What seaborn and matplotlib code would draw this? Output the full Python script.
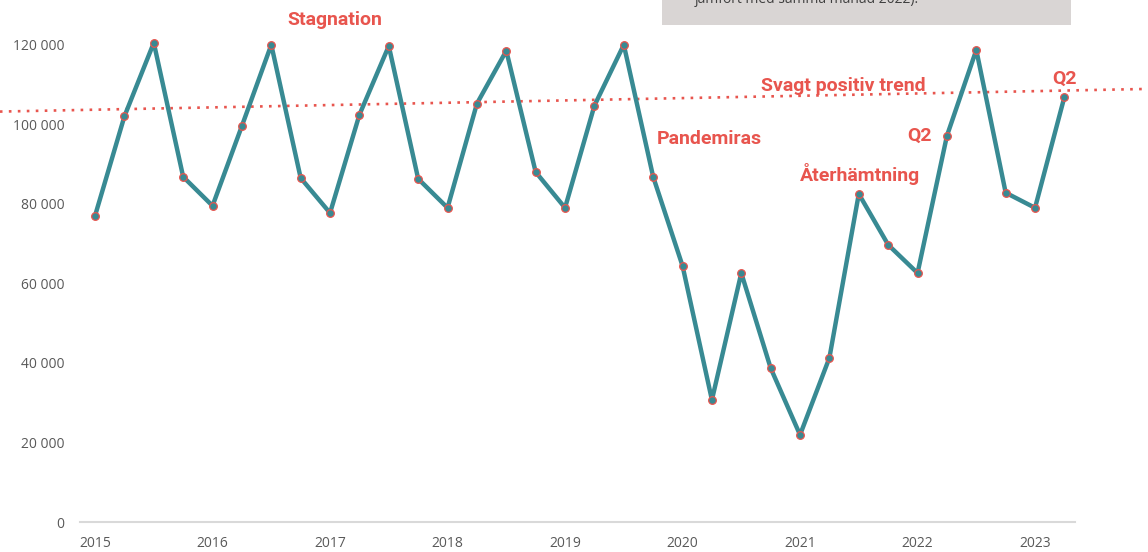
import numpy as np
import pandas as pd
import seaborn as sns
from matplotlib import pyplot as plt
from matplotlib.patches import Rectangle

# quarterly values, 2015 Q1 - 2023 Q2
start_year = 2015
values = [77000, 102000, 120500, 86800,
          79500, 99600, 120000, 86500,
          77700, 102400, 119700, 86300,
          79000, 105200, 118500, 88000,
          79000, 104700, 120000, 86800,
          64400, 30700, 62600, 38700,
          21900, 41300, 82500, 69700,
          62600, 97100, 118700, 82800,
          79000, 106900]
year_ticks = [2015, 2016, 2017, 2018, 2019, 2020, 2021, 2022, 2023]
y_ticks = [0, 20000, 40000, 60000, 80000, 100000, 120000]

# trend line end points (runs past the plot area)
trend_x = [2014.19, 2023.96]
trend_y = [103200, 108900]

# annotations
labels = ['Stagnation', 'Svagt positiv trend', 'Q2', 'Q2', 'Pandemiras', 'Återhämtning']
label_x = [2017.04, 2021.37, 2023.25, 2022.02, 2020.23, 2021.51]
label_y = [126200, 109600, 111400, 97100, 96300, 87500]

df = pd.DataFrame({'t': start_year + np.arange(len(values)) / 4, 'value': values})

teal = '#388a93'
red = '#e8554e'
grey_txt = '#595959'

sns.set_theme(style='white')
plt.rcParams['font.family'] = ['Open Sans', 'DejaVu Sans']

fig = plt.figure(figsize=(11.48, 5.52), dpi=100)
ax = fig.add_axes([80 / 1148, 30 / 552, 995 / 1148, 517 / 552])

ax.plot(trend_x, trend_y, linestyle=(0, (1, 2.4)), color=red, lw=1.9,
        clip_on=False, zorder=1)

sns.lineplot(data=df, x='t', y='value', ax=ax, color=teal, lw=3.2,
             marker='o', markersize=5.5, markerfacecolor=teal,
             markeredgecolor=red, markeredgewidth=0.9, zorder=3)

ax.set_xlim(2014.872, 2023.34)
ax.set_ylim(0, 130000)
ax.set_xticks(year_ticks)
ax.set_xticklabels([str(y) for y in year_ticks])
ax.set_yticks(y_ticks)
ax.set_yticklabels([f'{v:,}'.replace(',', ' ') for v in y_ticks])
ax.set_xlabel('')
ax.set_ylabel('')
ax.tick_params(axis='both', length=0, labelsize=10, labelcolor=grey_txt)
ax.tick_params(axis='y', pad=11)
ax.tick_params(axis='x', pad=10)

for s in ['left', 'right', 'top']:
    ax.spines[s].set_visible(False)
ax.spines['bottom'].set_color('#d9d9d9')
ax.spines['bottom'].set_linewidth(1.5)

for txt, x, y in zip(labels, label_x, label_y):
    ax.text(x, y, txt, color=red, fontsize=14, fontweight='bold',
            family=['Roboto', 'DejaVu Sans'], ha='center', va='center', zorder=4)

# grey info box cut off at the top
fig.patches.append(Rectangle((662 / 1148, 1 - 25 / 552), 409 / 1148, 25 / 552,
                             transform=fig.transFigure, facecolor='#d9d5d4',
                             edgecolor='none', zorder=0))
fig.text(695 / 1148, 1 - 3 / 552, 'jämfört med samma månad 2022).', color='#404040',
         fontsize=10, va='baseline', ha='left')

fig.savefig('out.png', dpi=100)
